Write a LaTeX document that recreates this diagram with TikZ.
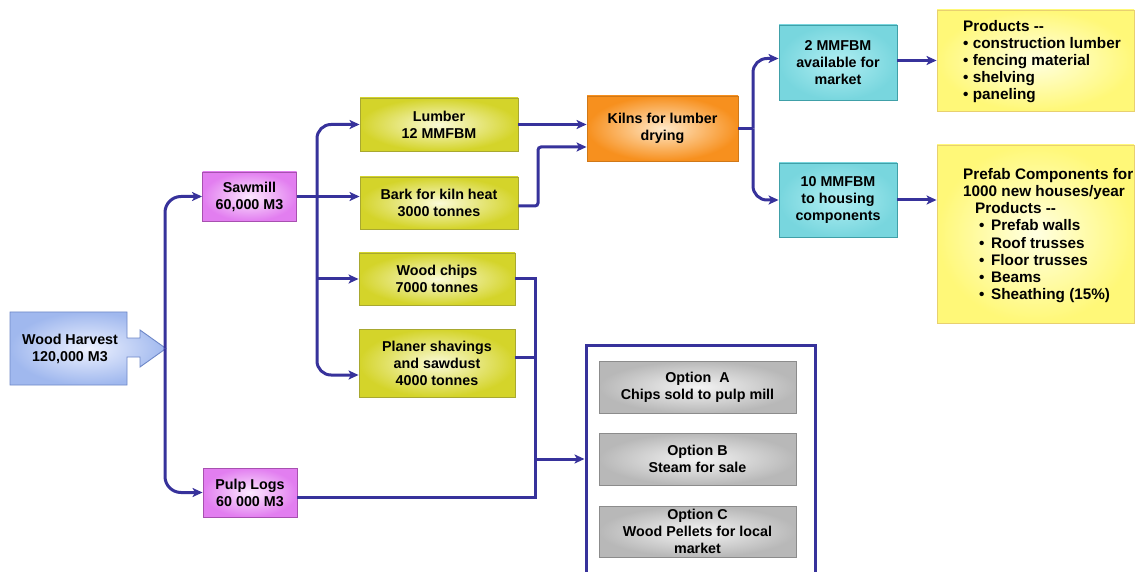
\documentclass[tikz,border=0pt]{standalone}
\usepackage{fontspec}
\setmainfont{Liberation Sans}
\usetikzlibrary{arrows.meta}
\definecolor{ln}{RGB}{55,50,155}
\definecolor{gout}{RGB}{212,212,42}
\definecolor{gin}{RGB}{250,250,215}
\definecolor{gbd}{RGB}{168,168,48}
\definecolor{mout}{RGB}{226,126,240}
\definecolor{min}{RGB}{252,232,254}
\definecolor{mbd}{RGB}{168,80,176}
\definecolor{oout}{RGB}{247,144,30}
\definecolor{oin}{RGB}{255,232,200}
\definecolor{obd}{RGB}{208,120,24}
\definecolor{cout}{RGB}{120,214,222}
\definecolor{cin}{RGB}{176,238,242}
\definecolor{cbd}{RGB}{64,160,168}
\definecolor{yout}{RGB}{255,248,120}
\definecolor{yin}{RGB}{255,255,225}
\definecolor{ybd}{RGB}{232,208,112}
\definecolor{grout}{RGB}{184,184,184}
\definecolor{grin}{RGB}{244,244,244}
\definecolor{grbd}{RGB}{140,140,140}
\definecolor{bout}{RGB}{160,184,238}
\definecolor{bin}{RGB}{238,242,255}
\definecolor{bbd}{RGB}{111,136,200}
\tikzset{
  box/.style={draw, line width=0.9pt, inner sep=0pt, align=center},
  greenbox/.style={box, draw=gbd, inner color=gin, outer color=gout},
  magbox/.style={box, draw=mbd, inner color=min, outer color=mout, minimum width=94, minimum height=49},
  orangebox/.style={box, draw=obd, inner color=oin, outer color=oout},
  cyanbox/.style={box, draw=cbd, inner color=cin, outer color=cout, minimum width=118, minimum height=75},
  yelbox/.style={box, draw=ybd, inner color=yin, outer color=yout, minimum width=197},
  graybox/.style={box, draw=grbd, inner color=grin, outer color=grout, minimum width=197, minimum height=52},
  ln/.style={draw=ln, line width=3pt},
  arr/.style={ln, -{Stealth[length=10pt,width=9pt,inset=2.5pt]}},
  prodtext/.style={anchor=west, align=left, inner sep=0pt, font=\bfseries\fontsize{15.3}{17.2}\selectfont}
}
\begin{document}
\begin{tikzpicture}[x=1pt,y=-1pt, font=\bfseries\fontsize{14.3}{17}\selectfont]
\useasboundingbox (0,0) rectangle (1136,572);
\clip (0,0) rectangle (1136,572);
\fill[white] (0,0) rectangle (1136,572);

% Wood harvest block arrow
\shadedraw[draw=bbd, line width=0.9pt, inner color=bin, outer color=bout]
  (10,312) -- (127,312) -- (127,338) -- (140,338) -- (140,330) -- (166,348.5)
  -- (140,367) -- (140,357) -- (127,357) -- (127,385) -- (10,385) -- cycle;
\node[align=center, inner sep=0pt] (wh) at (70,348.5) {Wood Harvest\\120,000 M3};
\coordinate (whtip) at (165,348.5);

% nodes
\node[magbox] (saw) at (249.5,196.5) {Sawmill\\60,000 M3};
\node[magbox] (pulp) at (250,492.5) {Pulp Logs\\60 000 M3};
\node[greenbox, minimum width=158, minimum height=53] (lumber) at (439,124.5) {Lumber\\12 MMFBM};
\node[greenbox, minimum width=158, minimum height=52] (bark) at (439,203) {Bark for kiln heat\\3000 tonnes};
\node[greenbox, minimum width=156, minimum height=52] (chips) at (437,279) {Wood chips\\7000 tonnes};
\node[greenbox, minimum width=156, minimum height=68] (planer) at (437,363) {Planer shavings\\and sawdust\\4000 tonnes};
\node[orangebox, minimum width=151, minimum height=65] (kiln) at (662.5,128.5) {Kilns for lumber\\drying};
\node[cyanbox] (m2) at (838,62.5) {2 MMFBM\\available for\\market};
\node[cyanbox, minimum height=74] (m10) at (838,200) {10 MMFBM\\to housing\\components};
\node[yelbox, minimum height=101] (p1) at (1035.5,60.5) {};
\node[yelbox, minimum height=178] (p2) at (1035.5,234) {};
\node[prodtext] (p1t) at (963,61.5) {Products -{}-\\\textbullet\ construction lumber\\\textbullet\ fencing material\\\textbullet\ shelving\\\textbullet\ paneling};
\node[prodtext] (p2t) at (963,235.5) {Prefab Components for\\1000 new houses/year\\\hspace*{12pt}Products -{}-\\\hspace*{16pt}\textbullet\hspace*{6.5pt}Prefab walls\\\hspace*{16pt}\textbullet\hspace*{6.5pt}Roof trusses\\\hspace*{16pt}\textbullet\hspace*{6.5pt}Floor trusses\\\hspace*{16pt}\textbullet\hspace*{6.5pt}Beams\\\hspace*{16pt}\textbullet\hspace*{6.5pt}Sheathing (15\%)};
\node[draw=ln, line width=3pt, minimum width=229, minimum height=255, inner sep=0pt] (opts) at (700.5,472.5) {};
\node[graybox] (optA) at (697.5,387) {Option\ \ A\\Chips sold to pulp mill};
\node[graybox] (optB) at (697.5,459) {Option B\\Steam for sale};
\node[graybox, minimum height=51] (optC) at (697.5,531.5) {Option C\\Wood Pellets for local\\market};

% connectors
\draw[arr, rounded corners=16pt] (whtip) |- (saw.west);
\draw[arr, rounded corners=16pt] (whtip) |- (pulp.west);

\coordinate (sj) at (317,196.5);
\draw[arr] (saw.east) -- (saw.east -| bark.west);
\draw[arr, rounded corners=14pt] (sj) |- (lumber.west);
\draw[arr] (sj |- chips.west) -- (chips.west);
\draw[arr, rounded corners=14pt] (sj) |- ([yshift=-12pt]planer.west);

\draw[arr] (lumber.east) -- (lumber.east -| kiln.west);
\coordinate (bk) at (538,147);
\draw[arr, rounded corners=3pt] ([yshift=-3pt]bark.east) -| (bk) -- (bk -| kiln.west);

\coordinate (kj) at (753,128.5);
\draw[ln] (kiln.east) -- (kj);
\draw[arr, rounded corners=14pt] (kj) |- ([yshift=4pt]m2.west);
\draw[arr, rounded corners=14pt] (kj) |- (m10.west);
\draw[arr] ([yshift=2pt]m2.east) -- ([yshift=2pt]m2.east -| p1.west);
\draw[arr] (m10.east) -- (m10.east -| p2.west);

\coordinate (cj) at (535,497.5);
\draw[ln] (chips.east) -| (cj) -- (cj -| pulp.east);
\draw[ln] ([yshift=6pt]planer.east) -- ([yshift=6pt]planer.east -| cj);
\draw[arr] (cj |- optB) -- (opts.west |- optB);
\end{tikzpicture}
\end{document}
